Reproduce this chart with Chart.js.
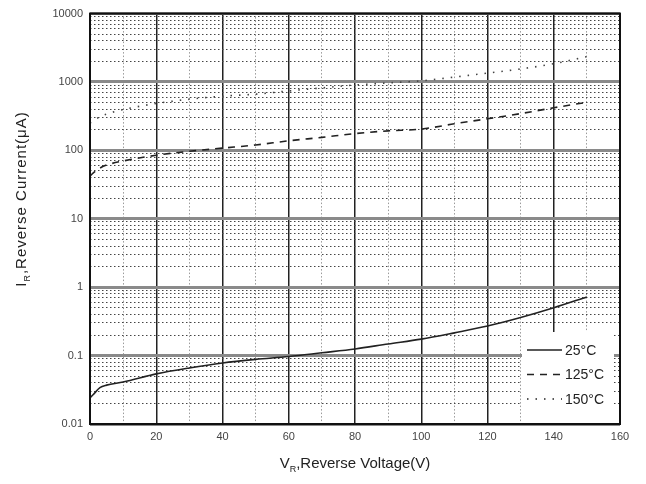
<!doctype html>
<html lang="en">
<head>
<meta charset="utf-8">
<title>Reverse Current vs Reverse Voltage</title>
<script src="https://cdn.jsdelivr.net/npm/chart.js@4.4.1/dist/chart.umd.min.js"></script>
<style>
  html, body { margin: 0; padding: 0; background: #fff; }
  canvas { display: block; }
</style>
</head>
<body>
<canvas id="ir-chart" width="646" height="484"></canvas>
<script>
// values (V in volts, current in uA)
const voltage = [0, 1, 3, 5, 10, 20, 30, 40, 50, 60, 70, 80, 90, 100, 110, 120, 130, 140, 150]
const current25 = [0.024, 0.027, 0.034, 0.037, 0.041, 0.054, 0.066, 0.078, 0.088, 0.097, 0.11, 0.125, 0.148, 0.174, 0.215, 0.27, 0.36, 0.50, 0.72]
const current125 = [42, 47, 55, 61, 70, 85, 97, 108, 120, 138, 155, 176, 193, 205, 245, 290, 345, 420, 505]
const current150 = [250, 270, 310, 340, 395, 485, 560, 620, 665, 740, 820, 905, 970, 1040, 1180, 1350, 1550, 1850, 2350]
const seriesLabels = ['25°C', '125°C', '150°C']
const yDecades = [0.01, 0.1, 1, 10, 100, 1000, 10000]
const yDecadeLabels = ['0.01', '0.1', '1', '10', '100', '1000', '10000']

const FONT = "'Liberation Sans', Arial, sans-serif"

function isDecade(v) {
    const l = Math.log10(v)
    return Math.abs(l - Math.round(l)) < 1e-6
}

function points(ys) {
    return voltage.map((v, i) => ({ x: v, y: ys[i] }))
}

// white legend box inside the lower right corner of the plot
const boxLegend = {
    id: 'boxLegend',
    afterDatasetsDraw(chart) {
        const { ctx, chartArea } = chart
        const left = chartArea.right - 98
        const top = chartArea.bottom - 92
        ctx.save()
        ctx.fillStyle = '#fff'
        ctx.fillRect(left, top, chartArea.right - 6 - left, chartArea.bottom - top)
        chart.data.datasets.forEach((ds, i) => {
            const y = top + 18 + i * 24.5
            ctx.strokeStyle = '#222'
            ctx.lineWidth = 1.5
            ctx.setLineDash(ds.borderDash || [])
            ctx.beginPath()
            ctx.moveTo(left + 5, y)
            ctx.lineTo(left + 40, y)
            ctx.stroke()
            ctx.fillStyle = '#222'
            ctx.font = '14px ' + FONT
            ctx.textBaseline = 'middle'
            ctx.fillText(ds.label, left + 43, y + 1)
        })
        ctx.restore()
    }
}

// frame around the plot and axis titles with subscripts
const frameAndTitles = {
    id: 'frameAndTitles',
    afterDraw(chart) {
        const { ctx, chartArea } = chart
        ctx.save()
        ctx.setLineDash([])
        ctx.strokeStyle = '#111'
        ctx.lineWidth = 2
        ctx.strokeRect(chartArea.left, chartArea.top, chartArea.right - chartArea.left, chartArea.bottom - chartArea.top)

        function subTitle(main, sub, rest, cx, cy, rot, size, spacing) {
            ctx.save()
            ctx.translate(cx, cy)
            ctx.rotate(rot)
            ctx.fillStyle = '#222'
            ctx.textBaseline = 'alphabetic'
            ctx.letterSpacing = spacing
            const big = size + 'px ' + FONT
            const small = Math.round(size * 0.62) + 'px ' + FONT
            ctx.font = big
            const w1 = ctx.measureText(main).width
            const w3 = ctx.measureText(rest).width
            ctx.font = small
            const w2 = ctx.measureText(sub).width
            let x = -(w1 + w2 + w3) / 2
            ctx.font = big
            ctx.fillText(main, x, 5)
            x += w1
            ctx.font = small
            ctx.fillText(sub, x, 9)
            x += w2
            ctx.font = big
            ctx.fillText(rest, x, 5)
            ctx.restore()
        }
        subTitle('V', 'R', ',Reverse Voltage(V)', (chartArea.left + chartArea.right) / 2, 463, 0, 15, '0px')
        subTitle('I', 'R', ',Reverse Current(\u03bcA)', 21, 199, -Math.PI / 2, 15, '1px')
        ctx.restore()
    }
}

new Chart(document.getElementById('ir-chart'), {
    type: 'line',
    data: {
        datasets: [
            { label: seriesLabels[0], data: points(current25), borderColor: '#222', borderWidth: 1.6, borderDash: [] },
            { label: seriesLabels[1], data: points(current125), borderColor: '#222', borderWidth: 1.6, borderDash: [7, 6] },
            { label: seriesLabels[2], data: points(current150), borderColor: '#444', borderWidth: 1.6, borderDash: [1.5, 7] }
        ]
    },
    options: {
        responsive: false,
        animation: false,
        layout: { padding: { left: 0, top: 10, right: 26, bottom: 0 } },
        elements: {
            point: { radius: 0 },
            line: { tension: 0.3, cubicInterpolationMode: 'monotone' }
        },
        plugins: {
            legend: { display: false },
            tooltip: { enabled: false }
        },
        scales: {
            x: {
                type: 'linear',
                min: 0,
                max: 160,
                afterFit(scale) { scale.height = 60 },
                ticks: {
                    stepSize: 10,
                    autoSkip: false,
                    maxRotation: 0,
                    padding: 6,
                    color: '#444',
                    font: { family: FONT, size: 11 },
                    callback: v => (v % 20 === 0 ? String(v) : '')
                },
                grid: {
                    drawTicks: false,
                    color: ctx => (ctx.tick && ctx.tick.value % 20 === 0 ? '#222' : '#9a9a9a'),
                    lineWidth: ctx => (ctx.tick && ctx.tick.value % 20 === 0 ? 1.5 : 1)
                },
                border: {
                    display: false,
                    dash: ctx => (ctx.tick && ctx.tick.value % 20 !== 0 ? [1.5, 2] : [])
                }
            },
            y: {
                type: 'logarithmic',
                min: 0.01,
                max: 10000,
                afterFit(scale) { scale.width = 90 },
                afterBuildTicks(scale) {
                    const ticks = []
                    yDecades.forEach(d => {
                        for (let k = 1; k <= 9; k++) {
                            ticks.push({ value: d * k })
                            if (d === 10000) break
                        }
                    })
                    scale.ticks = ticks
                },
                ticks: {
                    autoSkip: false,
                    padding: 7,
                    color: '#444',
                    font: { family: FONT, size: 11 },
                    callback: v => {
                        const i = yDecades.findIndex(d => Math.abs(d - v) / d < 1e-6)
                        return i >= 0 ? yDecadeLabels[i] : ''
                    }
                },
                grid: {
                    drawTicks: false,
                    color: ctx => (ctx.tick && isDecade(ctx.tick.value) ? '#8a8a8a' : '#444'),
                    lineWidth: ctx => (ctx.tick && isDecade(ctx.tick.value) ? 3 : 1)
                },
                border: {
                    display: false,
                    dash: ctx => (ctx.tick && !isDecade(ctx.tick.value) ? [1.5, 2.5] : [])
                }
            }
        }
    },
    plugins: [boxLegend, frameAndTitles]
})
</script>
</body>
</html>
